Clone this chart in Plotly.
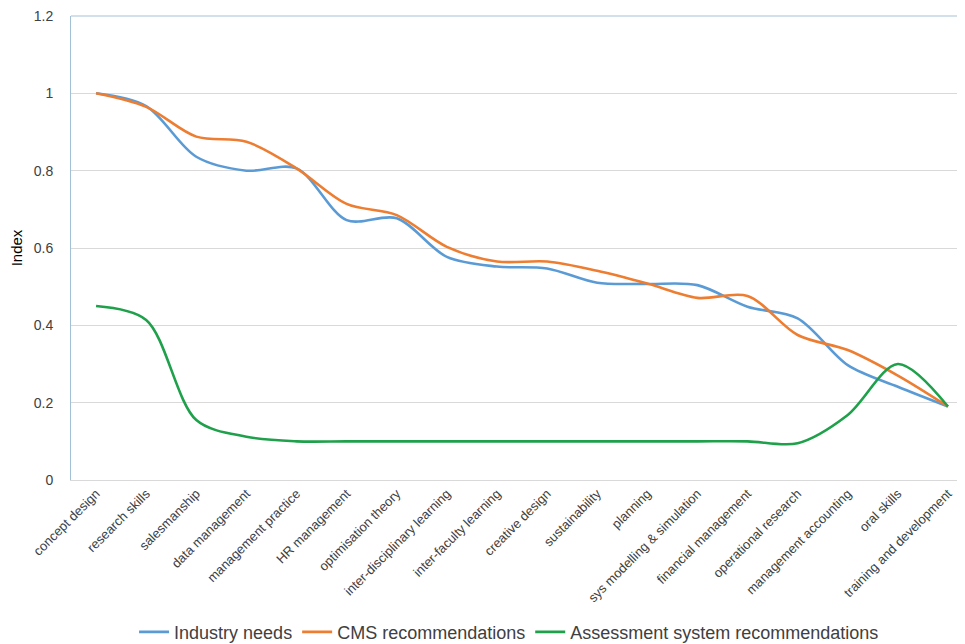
import plotly.graph_objects as go

categories = ["concept design", "research skills", "salesmanship", "data management",
              "management practice", "HR management", "optimisation theory",
              "inter-disciplinary learning", "inter-faculty learning", "creative design",
              "sustainability", "planning", "sys modelling & simulation",
              "financial management", "operational research", "management accounting",
              "oral skills", "training and development"]

industry_needs = [1.0, 0.967, 0.836, 0.80, 0.806, 0.672, 0.677, 0.577, 0.552, 0.547,
                  0.51, 0.507, 0.504, 0.448, 0.418, 0.297, 0.241, 0.19]
cms_recommendations = [1.0, 0.965, 0.888, 0.875, 0.806, 0.714, 0.685, 0.603, 0.565, 0.565,
                       0.541, 0.508, 0.471, 0.476, 0.375, 0.336, 0.27, 0.19]
assessment_recommendations = [0.45, 0.414, 0.155, 0.112, 0.10, 0.10, 0.10, 0.10, 0.10, 0.10,
                              0.10, 0.10, 0.10, 0.10, 0.095, 0.168, 0.30, 0.19]

series = [("Industry needs", industry_needs, "#5B9BD5"),
          ("CMS recommendations", cms_recommendations, "#ED7D31"),
          ("Assessment system recommendations", assessment_recommendations, "#1FA04A")]

fig = go.Figure()
for name, vals, col in series:
    fig.add_trace(go.Scatter(x=categories, y=vals, name=name, mode="lines",
                             line=dict(color=col, width=2.6, shape="spline", smoothing=0.9)))

fig.update_layout(
    width=957, height=636,
    margin=dict(l=63, r=0, t=8, b=164, autoexpand=False),
    paper_bgcolor="white", plot_bgcolor="white",
    font=dict(family="Liberation Sans", color="#404040"),
    showlegend=True,
    legend=dict(orientation="h", x=0.49, xanchor="center", y=-0.328, yanchor="middle",
                font=dict(size=18, color="#404040"), itemwidth=30, tracegroupgap=0),
    xaxis=dict(range=[-0.5, 17.34], tickangle=-45, showgrid=False, automargin=False,
               tickfont=dict(size=13, color="#404040"),
               showline=True, linecolor="#D9D9D9", linewidth=1, ticks="", mirror=False),
    yaxis=dict(range=[0, 1.2], dtick=0.2, tick0=0, showgrid=True, gridcolor="#D9D9D9",
               gridwidth=1, zeroline=False, showline=True, linecolor="#A3C1D6", linewidth=1,
               mirror=False, ticks="", ticklabelstandoff=14, automargin=False,
               ticklabeloverflow="allow",
               tickfont=dict(size=14, color="#404040"),
               title=dict(text="Index", font=dict(size=15, color="#000000"), standoff=12)),
)
# top border line of the plot area
fig.add_shape(type="line", xref="paper", yref="paper", x0=0, x1=1, y0=1, y1=1,
              line=dict(color="#A3C1D6", width=1))

fig.write_html("out.html")
